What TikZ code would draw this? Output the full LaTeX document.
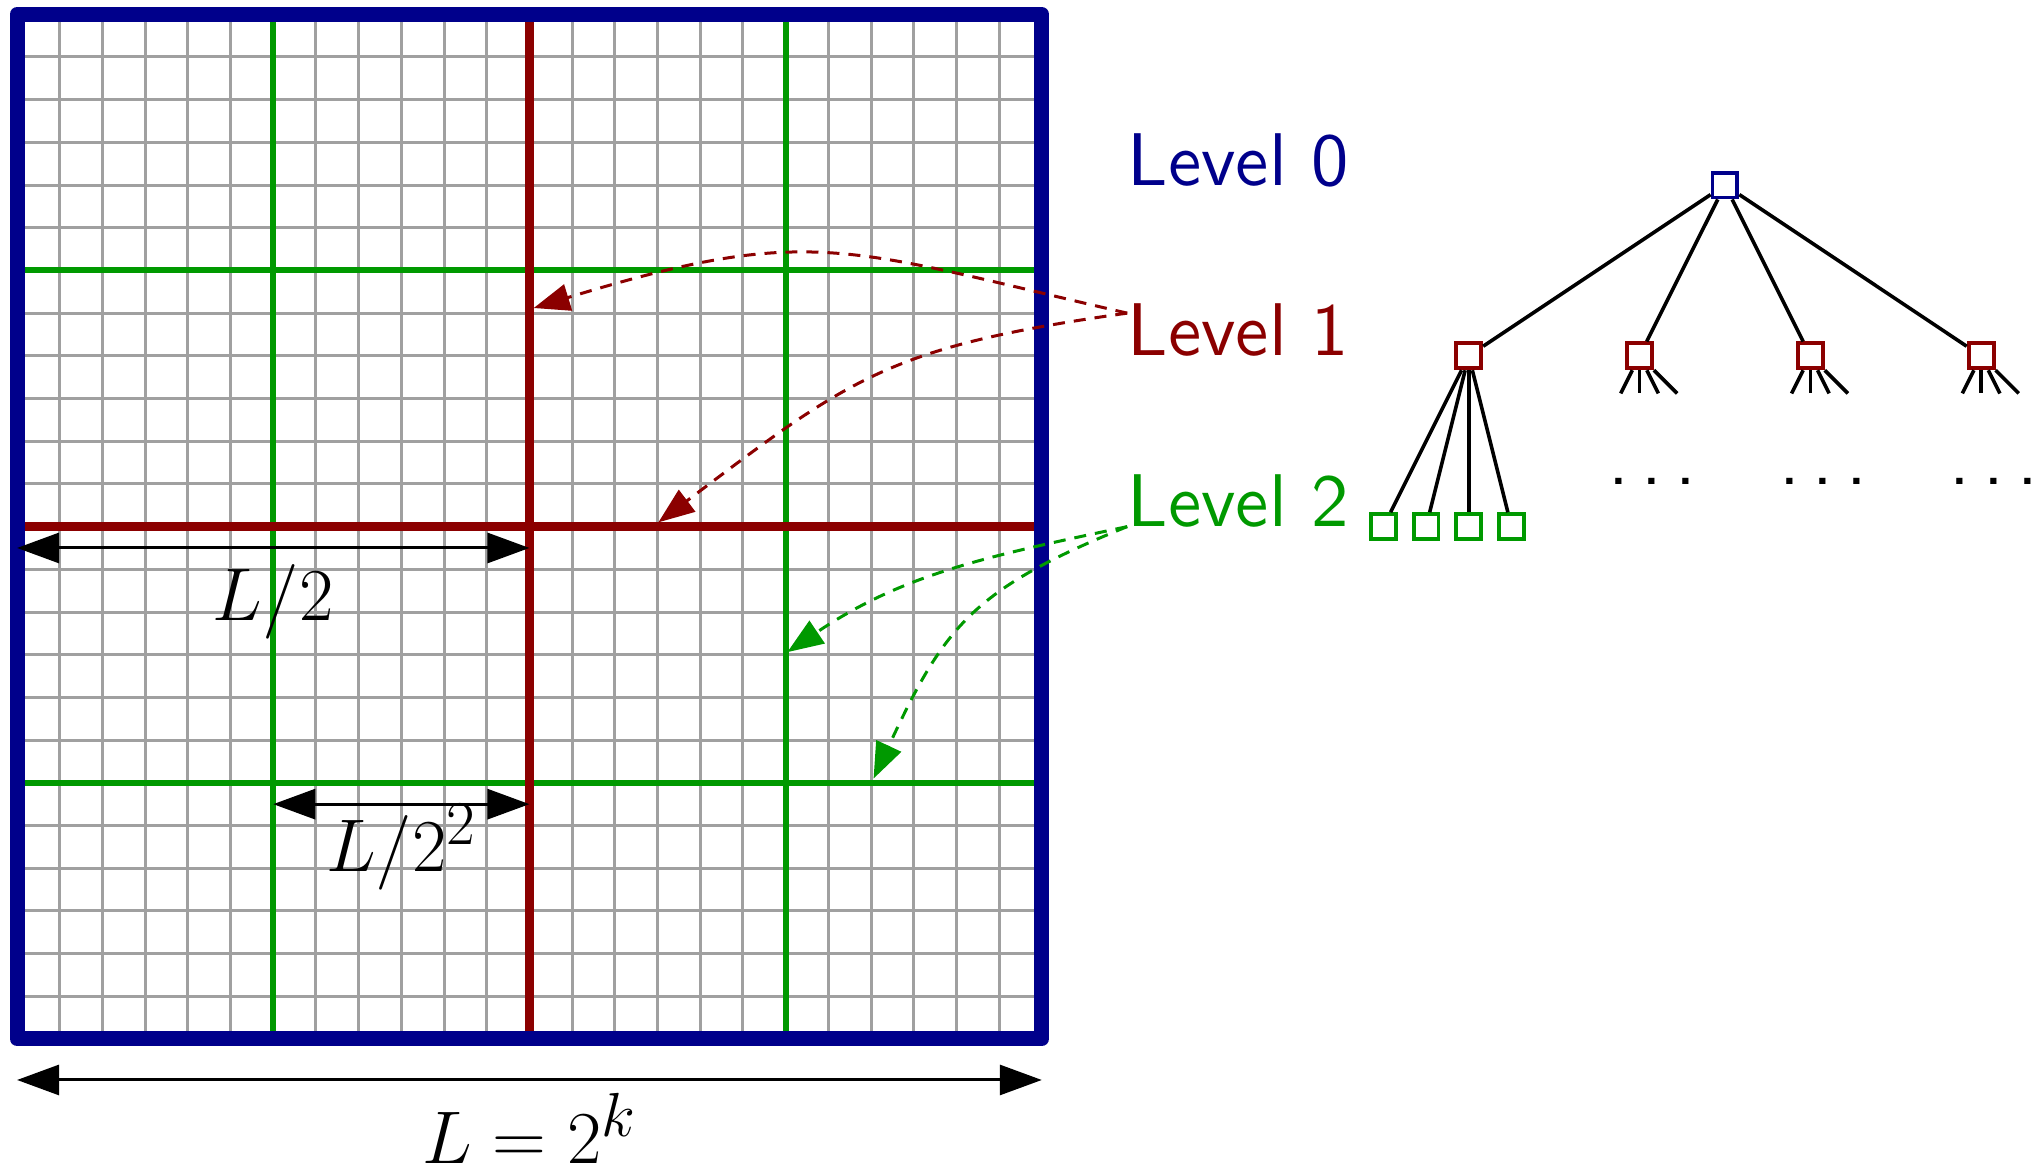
\documentclass[tikz,border=0pt]{standalone}
\usepackage{tikz}
\usetikzlibrary{positioning,arrows.meta}
\definecolor{navy}    {HTML}{00008B}
\definecolor{darkred} {HTML}{8B0000}
\definecolor{midgreen}{HTML}{009900}
\definecolor{gridgrey}{HTML}{A0A0A0}
\font\lvlfont="[lmsans10-regular.otf]" at 24.88pt
\tikzset{
  fine/.style  ={draw=gridgrey, line width=1pt},
  lev2/.style  ={draw=midgreen, line width=2pt},
  lev1/.style  ={draw=darkred, line width=2.8pt},
  outer/.style ={draw=navy, line width=5pt, line join=round},
  dim/.style   ={{Triangle[length=14pt,width=10pt]}-{Triangle[length=14pt,width=10pt]},
                 line width=1pt},
  dimlab/.style={font=\Huge, inner sep=0pt, anchor=base},
  lvl/.style   ={font=\lvlfont, anchor=base west, inner sep=0pt},
  ptr/.style   ={-{Triangle[length=12pt,width=9pt]}, line width=1pt,
                 dash pattern=on 4pt off 3pt},
  sq/.style    ={draw, fill=white, line width=1.3pt, minimum size=8.3pt,
                 inner sep=0pt},
  link/.style  ={draw=black, line width=1.2pt},
  dots/.style  ={font=\lvlfont, inner sep=0pt}
}

\begin{document}
\begin{tikzpicture}
\useasboundingbox (-0.2,-1.546) rectangle (23.666,12.167);
% the grid
\draw[fine, step=0.5] (0,0) grid (12,12);
\foreach \x in {3,9} {
  \draw[lev2] (\x,0) -- (\x,12);
  \draw[lev2] (0,\x) -- (12,\x);
}
\draw[lev1] (6,0) -- (6,12);
\draw[lev1] (0,6) -- (12,6);
\draw[outer] (0,0) rectangle (12,12);

% sizes
\coordinate (h0) at (0,5.75);  \coordinate (h1) at (6,5.75);
\coordinate (q0) at (3,2.75);  \coordinate (q1) at (6,2.75);
\coordinate (w0) at (0,-0.48); \coordinate (w1) at (12,-0.48);
\draw[dim] (h0) -- node[dimlab, yshift=-0.855cm] (lh) {$L/2$} (h1);
\draw[dim] (q0) -- node[dimlab, yshift=-0.79cm] (lq) {$L/2^2$} (q1);
\draw[dim] (w0) -- node[dimlab, yshift=-0.975cm] (lw) {$L=2^k$} (w1);

% the tree
\node[sq, draw=navy] (r0) at (20,10) {};
\foreach \i/\x in {1/17,2/19,3/21,4/23}
  \node[sq, draw=darkred] (n\i) at (\x,8) {};
\foreach \i/\x in {1/16,2/16.5,3/17,4/17.5}
  \node[sq, draw=midgreen] (c\i) at (\x,6) {};
\foreach \i in {1,...,4} {
  \draw[link] (r0) -- (n\i);
  \draw[link] (n1) -- (c\i);
}
\foreach \i in {2,3,4}
  \foreach \dx in {-0.22,0,0.22,0.44}
    \draw[link] (n\i) -- ++(\dx,-0.44);
\foreach \i/\x in {2/19.15,3/21.15,4/23.15}
  \node[dots] (d\i) at (\x,6.53) {.\kern4.3pt.\kern4.3pt.};

% levels
\node[lvl, text=navy]     (l0) at (13,10) {Level 0};
\node[lvl, text=darkred]  (l1) at (13,8)  {Level 1};
\node[lvl, text=midgreen] (l2) at (13,6)  {Level 2};

\coordinate (s1) at ([yshift=5mm]l1.base west);
\coordinate (s2) at (l2.base west);
\coordinate (t1) at (6.05,8.56);
\coordinate (t2) at (7.51,6.05);
\coordinate (t3) at (9.02,4.53);
\coordinate (t4) at (10.03,3.05);
\draw[ptr, darkred]  (s1) to[out=167,in=17,looseness=1.25] (t1);
\draw[ptr, darkred]  (s1) to[out=188,in=37,looseness=1.2] (t2);
\draw[ptr, midgreen] (s2) to[out=192,in=34] (t3);
\draw[ptr, midgreen] (s2) to[out=202,in=65,looseness=1.2] (t4);
\end{tikzpicture}
\end{document}
